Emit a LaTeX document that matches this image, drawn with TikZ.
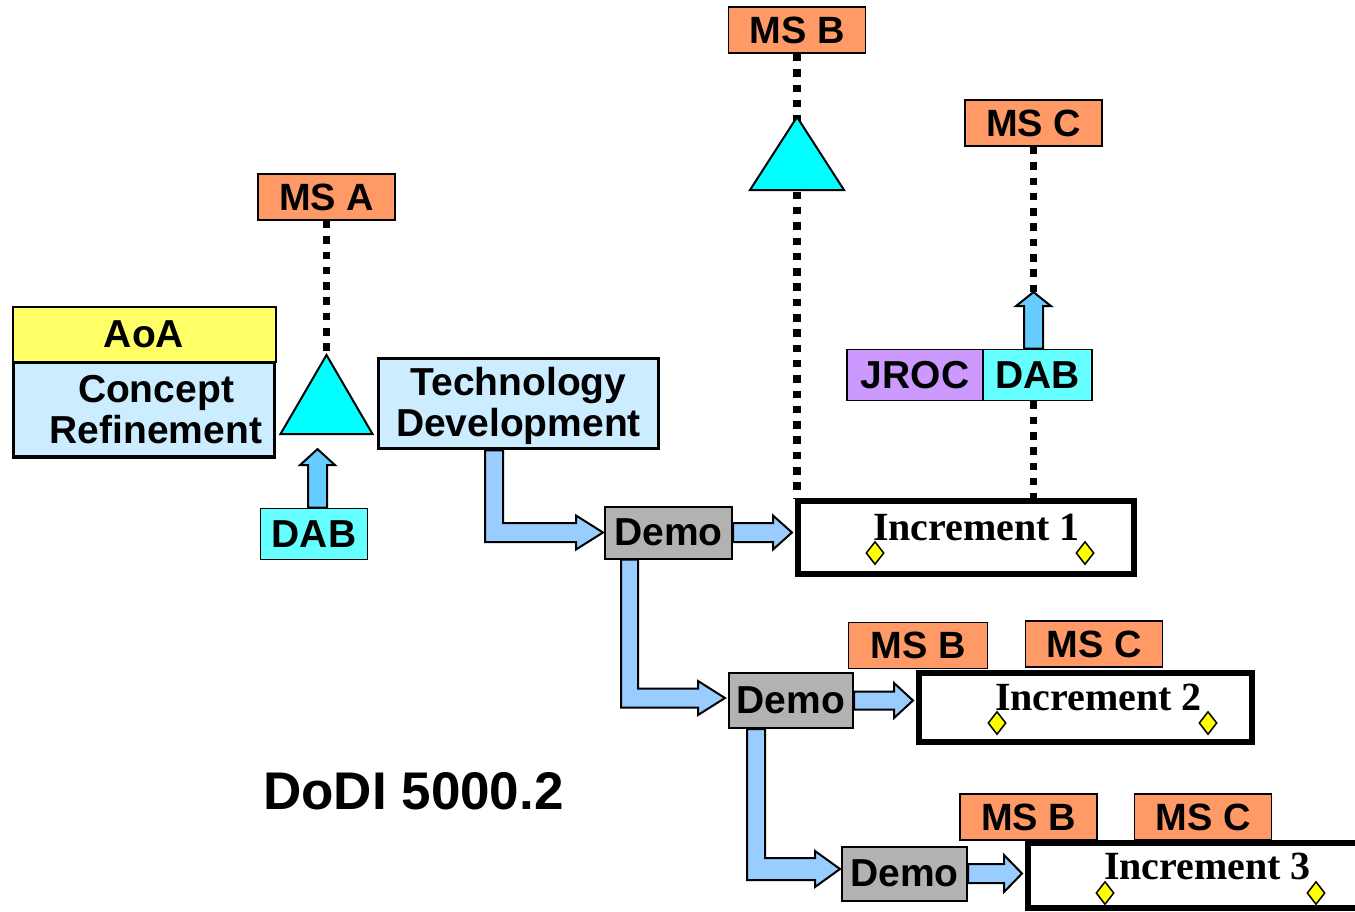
\documentclass[tikz,border=0pt]{standalone}
\usepackage{fontspec}
\setmainfont{Liberation Sans}
\newfontfamily\incfont{Liberation Serif}
\usetikzlibrary{calc,shapes.geometric,backgrounds}
\definecolor{msorange}{HTML}{FF9966}
\definecolor{aoayellow}{HTML}{FFFF66}
\definecolor{lightblue}{HTML}{CCECFF}
\definecolor{tricyan}{HTML}{00FFFF}
\definecolor{dabcyan}{HTML}{66FFFF}
\definecolor{jrocpurple}{HTML}{CC99FF}
\definecolor{demogray}{HTML}{B2B2B2}
\definecolor{flowblue}{HTML}{99CCFF}
\definecolor{upblue}{HTML}{66CCFF}
\definecolor{diamyellow}{HTML}{FFFF00}
\begin{document}
\begin{tikzpicture}[x=1pt,y=-1pt,
 plainbox/.style={draw=black, inner sep=0pt, font=\bfseries\fontsize{39}{41}\selectfont, align=center},
 msbox/.style={plainbox, line width=1.8pt, fill=msorange, minimum width=137pt, minimum height=46pt, font=\bfseries\fontsize{38}{40}\selectfont},
 phasebox/.style={plainbox, line width=3.5pt, fill=lightblue},
 demobox/.style={plainbox, line width=2pt, fill=demogray},
 dabbox/.style={plainbox, line width=1.8pt, fill=dabcyan},
 incbox/.style={draw=black, line width=6pt, fill=white, inner sep=0pt},
 inctext/.style={font=\incfont\bfseries\fontsize{40}{40}\selectfont, inner sep=0pt, anchor=base},
 dotline/.style={line width=7.5pt, dash pattern=on 7.5pt off 7.8pt},
 flowarrow/.style={draw=black, line width=2pt, fill=flowblue, line join=miter},
 upflow/.style={draw=black, line width=2pt, fill=upblue, line join=miter},
 tri/.style={draw=black, line width=2pt, fill=tricyan, line join=miter},
 milestone/.style={diamond, draw=black, line width=1.5pt, fill=diamyellow, inner sep=0pt, minimum width=18pt, minimum height=23pt},
]
\useasboundingbox (0,0) rectangle (1355,911);
\clip (0,0) rectangle (1355,911);

% milestone boxes (top)
\node[msbox] (msA) at (326.5,197) {MS A};
\node[msbox] (msB) at (797,30) {MS B};
\node[msbox] (msC) at (1033.5,123) {MS C};

% left phases
\node[phasebox, minimum width=261pt, minimum height=95pt] (cr) at (144,409.5) {\hspace*{24pt}Concept\\\hspace*{24pt}Refinement};
\node[plainbox, line width=2pt, fill=aoayellow, minimum width=263pt, minimum height=55pt] (aoa) at (144,334) {AoA};
\node[dabbox, minimum width=107pt, minimum height=51pt] (dabA) at (314,534) {DAB};
\node[phasebox, minimum width=280pt, minimum height=90pt] (td) at (518.5,403.5) {\rule{0pt}{33pt}Technology\\Development};

% increment 1
\node[demobox, minimum width=127pt, minimum height=52pt] (demo1) at (668.5,532.5) {Demo};
\node[incbox, minimum width=336pt, minimum height=73pt] (inc1) at (966,537.5) {};
\node[inctext] (inc1t) at (976.5,540) {Increment 1};
\node[milestone] (m1a) at (875,553) {};
\node[milestone] (m1b) at (1085,553) {};
\node[plainbox, line width=1.8pt, fill=jrocpurple, minimum width=136pt, minimum height=51pt] (jroc) at (915,375) {JROC};
\node[dabbox, minimum width=109pt, minimum height=51pt] (dabB) at (1037.5,375) {DAB};

% increment 2
\node[msbox, minimum width=139pt] (msB2) at (918,645.5) {MS B};
\node[msbox] (msC2) at (1094,644) {MS C};
\node[demobox, minimum width=124pt, minimum height=55pt] (demo2) at (791,700.5) {Demo};
\node[incbox, minimum width=333pt, minimum height=69pt] (inc2) at (1085.5,707.5) {};
\node[inctext] (inc2t) at (1098.5,710) {Increment 2};
\node[milestone] (m2a) at (997,723) {};
\node[milestone] (m2b) at (1208,723) {};

% increment 3
\node[msbox] (msB3) at (1028.5,817) {MS B};
\node[msbox] (msC3) at (1203,817) {MS C};
\node[demobox, minimum width=125pt, minimum height=54pt] (demo3) at (904.5,873.5) {Demo};
\node[incbox, minimum width=372pt, minimum height=65pt] (inc3) at (1214,875.5) {};
\node[inctext] (inc3t) at (1207.5,879) {Increment 3};
\node[milestone] (m3a) at (1105,893) {};
\node[milestone] (m3b) at (1316,893) {};

% title
\node[font=\bfseries\fontsize{53}{53}\selectfont, inner sep=0pt, anchor=base] (dodi) at (413.5,809) {DoDI 5000.2};

% triangles
\coordinate (t1apex) at (msA.south |- 0,355);
\draw[tri] (t1apex) -- ++(46,79) -- ++(-92,0) -- cycle;
\coordinate (t2apex) at (msB.south |- 0,117);
\draw[tri] (t2apex) -- ++(47,73) -- ++(-94,0) -- cycle;

\begin{pgfonlayer}{background}
% dotted milestone lines
\draw[dotline] (msA.south) -- (t1apex);
\draw[dotline] (msB.south) -- (msB.south |- inc1.north);
\draw[dotline] (msC.south) -- (msC.south |- dabB.north);
\draw[dotline] (msC.south |- dabB.south) -- (msC.south |- inc1.north);

% up arrows
\coordinate (uAbase) at ($(dabA.north)+(3.5,0)$);
\coordinate (uAtip) at ($(uAbase)+(0,-58.5)$);
\draw[upflow] ($(uAbase)+(-9.5,0)$) -- ($(uAtip)+(-9.5,16)$) -- ($(uAtip)+(-17.5,16)$) -- (uAtip)
  -- ($(uAtip)+(17.5,16)$) -- ($(uAtip)+(9.5,16)$) -- ($(uAbase)+(9.5,0)$) -- cycle;
\coordinate (uBbase) at (msC.south |- dabB.north);
\coordinate (uBtip) at ($(uBbase)+(0,-56.5)$);
\draw[upflow] ($(uBbase)+(-9.5,0)$) -- ($(uBtip)+(-9.5,14)$) -- ($(uBtip)+(-17.5,14)$) -- (uBtip)
  -- ($(uBtip)+(17.5,14)$) -- ($(uBtip)+(9.5,14)$) -- ($(uBbase)+(9.5,0)$) -- cycle;

% flow arrows
\coordinate (fAtop) at ($(td.south)+(-24.5,0)$);
\coordinate (fAtip) at ($(demo1.west)+(-1,0)$);
\draw[flowarrow] ($(fAtop)+(-9,0)$) |- ($(fAtip)+(-27,9.5)$) -- ($(fAtip)+(-27,17)$) -- (fAtip)
  -- ($(fAtip)+(-27,-17)$) -- ($(fAtip)+(-27,-9.5)$) -| ($(fAtop)+(9,0)$) -- cycle;

\coordinate (fBtip) at ($(demo1.east -| inc1.west)+(-3,0)$);
\draw[flowarrow] ($(demo1.east)+(0,-9.5)$) -- ($(fBtip)+(-19,-9.5)$) -- ($(fBtip)+(-19,-17)$) -- (fBtip)
  -- ($(fBtip)+(-19,17)$) -- ($(fBtip)+(-19,9.5)$) -- ($(demo1.east)+(0,9.5)$) -- cycle;

\coordinate (fCtop) at ($(demo1.south)+(-39,0)$);
\coordinate (fCtip) at ($(demo2.west)+(-3,-2.5)$);
\draw[flowarrow] ($(fCtop)+(-8.5,0)$) |- ($(fCtip)+(-27,9.5)$) -- ($(fCtip)+(-27,17)$) -- (fCtip)
  -- ($(fCtip)+(-27,-17)$) -- ($(fCtip)+(-27,-9.5)$) -| ($(fCtop)+(8.5,0)$) -- cycle;

\coordinate (fDtop) at ($(demo2.south)+(-35,0)$);
\coordinate (fDtip) at ($(demo3.west)+(-1,-4.5)$);
\draw[flowarrow] ($(fDtop)+(-9,0)$) |- ($(fDtip)+(-25,11)$) -- ($(fDtip)+(-25,18)$) -- (fDtip)
  -- ($(fDtip)+(-25,-18)$) -- ($(fDtip)+(-25,-11)$) -| ($(fDtop)+(9,0)$) -- cycle;

\coordinate (fEtip) at ($(demo2.east -| inc2.west)+(-3,0)$);
\draw[flowarrow] ($(demo2.east)+(0,-9)$) -- ($(fEtip)+(-19,-9)$) -- ($(fEtip)+(-19,-17.5)$) -- (fEtip)
  -- ($(fEtip)+(-19,17.5)$) -- ($(fEtip)+(-19,9)$) -- ($(demo2.east)+(0,9)$) -- cycle;

\coordinate (fFtip) at ($(demo3.east -| inc3.west)+(-3,0)$);
\draw[flowarrow] ($(demo3.east)+(0,-9.5)$) -- ($(fFtip)+(-18,-9.5)$) -- ($(fFtip)+(-18,-18.5)$) -- (fFtip)
  -- ($(fFtip)+(-18,18.5)$) -- ($(fFtip)+(-18,9.5)$) -- ($(demo3.east)+(0,9.5)$) -- cycle;
\end{pgfonlayer}
\end{tikzpicture}
\end{document}
